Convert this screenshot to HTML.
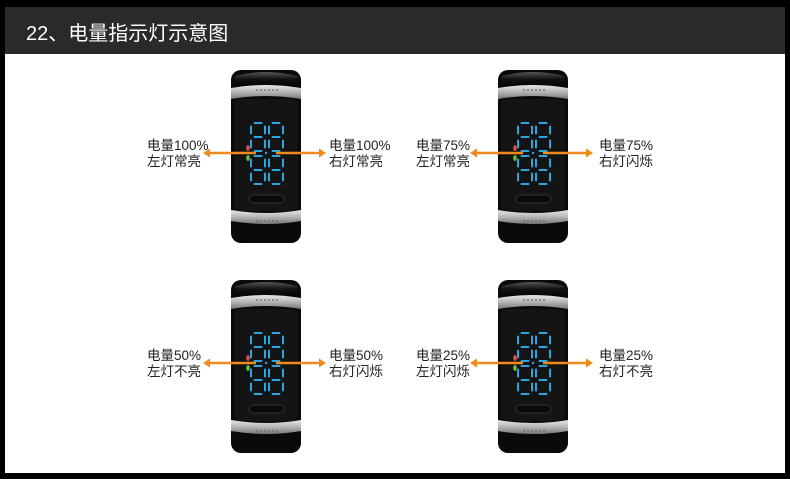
<!DOCTYPE html>
<html><head><meta charset="utf-8"><style>
html,body{margin:0;padding:0;background:#000;}
body{width:790px;height:479px;position:relative;overflow:hidden;font-family:"Liberation Sans","Noto Sans CJK SC",sans-serif;}
.hdr{position:absolute;left:5px;top:7px;width:780px;height:47px;background:#2a2a2a;}
.hdr span{position:absolute;left:21px;top:10px;color:#fff;font-size:20px;font-family:"Liberation Sans","Noto Sans CJK SC",sans-serif;}
.main{position:absolute;left:5px;top:54px;width:780px;height:419px;background:#fff;}
svg{position:absolute;left:0;top:0;}
</style></head><body>
<div class="hdr"><span>22、电量指示灯示意图</span></div>
<div class="main"></div>
<svg width="790" height="479" viewBox="0 0 790 479">
<defs>
<linearGradient id="band" x1="0" y1="0" x2="0" y2="1">
<stop offset="0" stop-color="#e8e8e8"/><stop offset="0.5" stop-color="#b5b5b5"/><stop offset="1" stop-color="#777"/>
</linearGradient>
<linearGradient id="cap" x1="0" y1="0" x2="0" y2="1">
<stop offset="0" stop-color="#555"/><stop offset="0.4" stop-color="#111"/><stop offset="1" stop-color="#000"/>
</linearGradient>
<g id="dig" stroke="#2aa6e2" stroke-width="2" stroke-linecap="round" fill="none">
<path d="M3.5 0h7M0 3.5v7M14 3.5v7M3.5 14h7M0 17.5v7M14 17.5v7M3.5 28h7"/>
</g>
<g id="dev">
<rect x="0" y="0" width="70" height="173" rx="10" fill="#0a0a0a"/>
<path d="M4 6 Q35 -2 66 6 L68 20 L2 20 Z" fill="url(#cap)"/>
<path d="M0 18 Q35 12 70 18 L70 29 Q35 23 0 29 Z" fill="url(#band)"/>
<g fill="#666"><circle cx="26" cy="20" r="0.9"/><circle cx="30" cy="20" r="0.9"/><circle cx="34" cy="20" r="0.9"/><circle cx="38" cy="20" r="0.9"/><circle cx="42" cy="20" r="0.9"/><circle cx="46" cy="20" r="0.9"/></g>
<rect x="3" y="29" width="64" height="112" rx="6" fill="#141414"/>
<path d="M0 140 Q35 146 70 140 L70 151 Q35 157 0 151 Z" fill="url(#band)"/>
<g fill="#666"><circle cx="26" cy="151" r="0.9"/><circle cx="30" cy="151" r="0.9"/><circle cx="34" cy="151" r="0.9"/><circle cx="38" cy="151" r="0.9"/><circle cx="42" cy="151" r="0.9"/><circle cx="46" cy="151" r="0.9"/></g>
<rect x="18" y="125" width="35" height="8" rx="4" fill="#0a0a0a" stroke="#333" stroke-width="1"/>
<use href="#dig" x="20" y="53"/><use href="#dig" x="38" y="53"/>
<use href="#dig" x="20" y="86"/><use href="#dig" x="38" y="86"/>
<circle cx="35" cy="83" r="1.2" fill="#2aa6e2"/>
</g>
</defs>
<g>
<use href="#dev" x="231" y="70"/>
<use href="#dev" x="498" y="70"/>
<use href="#dev" x="231" y="280"/>
<use href="#dev" x="498" y="280"/>
</g>
<g>
<ellipse cx="248" cy="148" rx="1.8" ry="3" fill="#e0504a"/>
<ellipse cx="248" cy="158" rx="1.8" ry="3" fill="#6cbf3a"/>
<ellipse cx="515" cy="148" rx="1.8" ry="3" fill="#e0504a"/>
<ellipse cx="515" cy="158" rx="1.8" ry="3" fill="#6cbf3a"/>
<ellipse cx="248" cy="358" rx="1.8" ry="3" fill="#e0504a"/>
<ellipse cx="248" cy="368" rx="1.8" ry="3" fill="#6cbf3a"/>
<ellipse cx="515" cy="358" rx="1.8" ry="3" fill="#e0504a"/>
<ellipse cx="515" cy="368" rx="1.8" ry="3" fill="#6cbf3a"/>
</g>
<g stroke="#f08a1c" stroke-width="2.5" fill="#f08a1c">
<line x1="208" y1="153" x2="256" y2="153"/><line x1="276" y1="153" x2="320" y2="153"/>
<line x1="475" y1="153" x2="523" y2="153"/><line x1="543" y1="153" x2="587" y2="153"/>
<line x1="208" y1="363" x2="256" y2="363"/><line x1="276" y1="363" x2="320" y2="363"/>
<line x1="475" y1="363" x2="523" y2="363"/><line x1="543" y1="363" x2="587" y2="363"/>
</g>
<g fill="#f08a1c">
<path d="M203 153l7-4.5v9z"/><path d="M326 153l-7-4.5v9z"/>
<path d="M470 153l7-4.5v9z"/><path d="M593 153l-7-4.5v9z"/>
<path d="M203 363l7-4.5v9z"/><path d="M326 363l-7-4.5v9z"/>
<path d="M470 363l7-4.5v9z"/><path d="M593 363l-7-4.5v9z"/>
</g>
<g font-size="13.5" fill="#222" font-family="Liberation Sans, Noto Sans CJK SC, sans-serif">
<text x="147" y="150">电量100%</text><text x="147" y="166">左灯常亮</text>
<text x="329" y="150">电量100%</text><text x="329" y="166">右灯常亮</text>
<text x="416" y="150">电量75%</text><text x="416" y="166">左灯常亮</text>
<text x="599" y="150">电量75%</text><text x="599" y="166">右灯闪烁</text>
<text x="147" y="360">电量50%</text><text x="147" y="376">左灯不亮</text>
<text x="329" y="360">电量50%</text><text x="329" y="376">右灯闪烁</text>
<text x="416" y="360">电量25%</text><text x="416" y="376">左灯闪烁</text>
<text x="599" y="360">电量25%</text><text x="599" y="376">右灯不亮</text>
</g>
</svg>
</body></html>
